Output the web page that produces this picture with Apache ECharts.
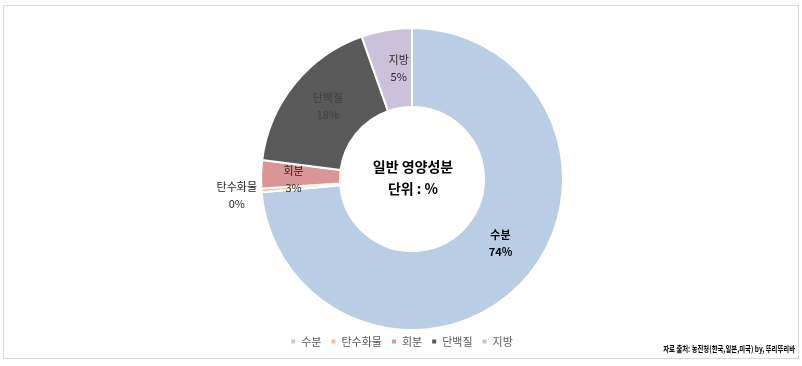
<!DOCTYPE html>
<html>
<head>
<meta charset="utf-8">
<script src="https://cdn.jsdelivr.net/npm/echarts@6/dist/echarts.min.js"></script>
<style>
html,body{margin:0;padding:0;background:#fff;}
#chart{width:802px;height:366px;}
</style>
</head>
<body>
<div id="chart"></div>
<script>
// 일반 영양성분 (단위 %)
var names = ['수분', '탄수화물', '회분', '단백질', '지방'];
var values = [73.6, 0.4, 3.0, 17.6, 5.4];
var colors = ['#B9CDE5', '#FAC090', '#D99694', '#595959', '#CCC1DA'];
var labelColors = ['#000', '#262626', '#262626', '#404040', '#262626'];
var labelOffsets = [[4, -13], [-61, 8], [-4, 4], [5, -1], [6, 2]];

var font = '"Noto Sans CJK KR", "Noto Sans", sans-serif';

var myChart = echarts.init(document.getElementById('chart'));

var pieData = [];
for (var i = 0; i < names.length; i++) {
    pieData.push({
        name: names[i],
        value: values[i],
        itemStyle: { color: colors[i] },
        label: {
            color: labelColors[i],
            fontWeight: i == 0 ? 'bold' : 'normal',
            offset: labelOffsets[i]   // 탄수화물은 조각이 얇아서 바깥쪽에 표시
        }
    });
}

option = {
    backgroundColor: '#fff',
    animation: false,
    graphic: [
        {
            type: 'rect',
            shape: { x: 3.5, y: 5.5, width: 795, height: 353 },
            style: { fill: 'none', stroke: '#D9D9D9', lineWidth: 1 }
        },
        {
            type: 'text',
            style: {
                text: '일반 영양성분\n단위 : %',
                x: 413, y: 178,
                align: 'center', verticalAlign: 'middle',
                font: 'bold 14px ' + font,
                fill: '#000',
                lineHeight: 22
            }
        },
        {
            type: 'text',
            x: 795, y: 349,
            scaleX: 0.75,
            style: {
                text: '자료 출처: 농진청(한국,일본,미국) by, 뚜리뚜리바',
                x: 0, y: 0,
                align: 'right', verticalAlign: 'middle',
                font: 'bold 8.5px ' + font,
                fill: '#000'
            }
        }
    ],
    legend: {
        bottom: 14,
        left: 'center',
        itemWidth: 6,
        itemHeight: 6,
        itemGap: 8,
        icon: 'rect',
        textStyle: { fontFamily: font, fontSize: 11, color: '#595959' },
        data: names
    },
    series: [
        {
            type: 'pie',
            center: [412, 179],
            radius: [72, 151],
            startAngle: 90,
            clockwise: true,
            itemStyle: { borderColor: '#fff', borderWidth: 2 },
            label: {
                show: true,
                position: 'inside',
                fontFamily: font,
                fontSize: 11,
                lineHeight: 17,
                formatter: function (p) {
                    return p.name + '\n' + Math.round(p.value) + '%';
                }
            },
            labelLine: { show: false },
            data: pieData
        }
    ]
};
myChart.setOption(option);
window.addEventListener('resize', function () {
    myChart.resize();
});
</script>
</body>
</html>
